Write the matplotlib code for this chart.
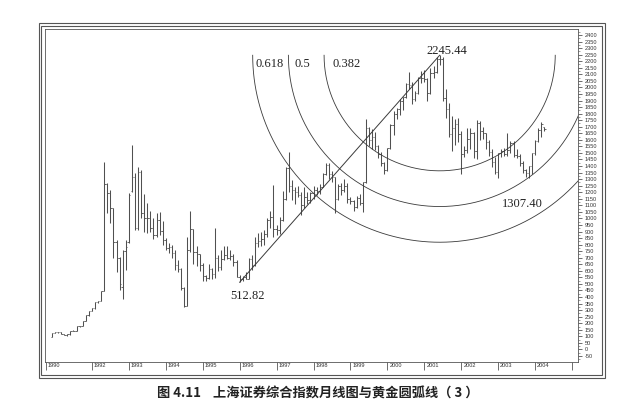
import numpy as np
import pandas as pd
import matplotlib
matplotlib.use("Agg")
import matplotlib.pyplot as plt
from matplotlib.patches import Rectangle
from matplotlib.transforms import ScaledTranslation

# ---------------- data (monthly OHLC, Shanghai Composite, 1990-12 .. 2004-04) ----------------
start_month = "1990-12"
opens = [96,
         128, 130, 134, 120, 114, 115, 138, 144, 179, 181, 219, 260,
         293, 313, 365, 371, 445, 1266, 1195, 1080, 820, 700, 480, 750,
         820, 1210, 1320, 925, 1358, 1040, 1007, 1000, 924, 871, 986, 906,
         834, 777, 780, 739, 648, 613, 467, 334, 758, 920, 746, 726,
         648, 564, 549, 612, 579, 700, 630, 692, 722, 701, 716, 666,
         555, 537, 552, 541, 693, 643, 812, 830, 840, 882, 986, 1014,
         917, 914, 990, 1150, 1385, 1250, 1218, 1200, 1180, 1100, 1160, 1137,
         1194, 1220, 1206, 1243, 1342, 1411, 1339, 1316, 1150, 1250, 1217, 1247,
         1147, 1134, 1090, 1158, 1120, 1279, 1689, 1601, 1622, 1550, 1490, 1421,
         1367, 1535, 1714, 1800, 1836, 1894, 1928, 2023, 2021, 1910, 1961, 2070,
         2073, 2065, 1958, 2112, 2119, 2214, 2218, 1920, 1834, 1642, 1689, 1720,
         1646, 1491, 1524, 1603, 1654, 1516, 1732, 1671, 1650, 1581, 1507, 1431,
         1358, 1499, 1511, 1490, 1521, 1577, 1487, 1477, 1421, 1367, 1348, 1397,
         1497, 1590, 1675, 1700]
highs = [128,
         135, 134, 135, 121, 116, 138, 145, 180, 181, 219, 260, 293,
         313, 365, 372, 446, 1429, 1267, 1220, 1080, 835, 708, 759, 835,
         1195, 1558, 1347, 1392, 1370, 1190, 1120, 1060, 1000, 1040, 1050, 980,
         850, 810, 800, 760, 680, 620, 480, 860, 1053, 920, 790, 730,
         660, 570, 650, 620, 926, 720, 760, 790, 790, 760, 730, 680,
         570, 560, 590, 700, 720, 860, 890, 900, 910, 1000, 1060, 1258,
         950, 1010, 1210, 1395, 1510, 1290, 1240, 1250, 1200, 1240, 1200, 1200,
         1250, 1240, 1260, 1350, 1420, 1423, 1360, 1320, 1260, 1270, 1300, 1270,
         1160, 1140, 1170, 1190, 1280, 1756, 1700, 1680, 1660, 1560, 1510, 1430,
         1540, 1720, 1820, 1840, 1910, 1930, 2030, 2114, 2040, 1970, 2080, 2125,
         2131, 2070, 2145, 2160, 2232, 2245.44, 2230, 1990, 1880, 1780, 1760, 1770,
         1670, 1550, 1690, 1690, 1660, 1749, 1740, 1700, 1655, 1600, 1530, 1470,
         1500, 1530, 1540, 1650, 1590, 1590, 1530, 1490, 1440, 1380, 1400, 1500,
         1600, 1690, 1738, 1700]
lows = [96,
        127, 129, 120, 113, 105, 114, 137, 143, 170, 180, 218, 259,
        292, 312, 355, 370, 445, 1040, 965, 700, 593, 453, 387, 606,
        815, 1204, 911, 915, 1000, 900, 890, 900, 840, 860, 870, 800,
        760, 735, 700, 610, 590, 455, 326, 334, 740, 650, 640, 600,
        524, 524, 540, 540, 545, 600, 610, 680, 690, 680, 640, 550,
        513, 520, 536, 540, 610, 640, 780, 790, 800, 860, 930, 855,
        870, 880, 980, 1140, 1200, 1140, 1110, 1160, 1025, 1080, 1110, 1120,
        1150, 1180, 1190, 1240, 1330, 1300, 1280, 1043, 1140, 1180, 1200, 1120,
        1110, 1060, 1080, 1100, 1047, 1270, 1550, 1530, 1520, 1460, 1400, 1341,
        1361, 1530, 1640, 1760, 1790, 1830, 1920, 1990, 1875, 1900, 1950, 2030,
        2040, 1893, 1950, 2070, 2110, 2170, 1900, 1770, 1620, 1515, 1560, 1580,
        1339, 1470, 1500, 1530, 1460, 1455, 1600, 1610, 1530, 1480, 1390, 1340,
        1312, 1470, 1480, 1480, 1500, 1470, 1460, 1400, 1350, 1320, 1307.40, 1340,
        1484, 1583, 1621, 1665]
closes = [128,
          130, 134, 120, 114, 115, 138, 144, 179, 181, 219, 260, 293,
          313, 365, 371, 445, 1266, 1195, 1080, 820, 700, 500, 750, 780,
          1180, 1320, 925, 1358, 1040, 1007, 1000, 924, 871, 986, 906, 834,
          777, 780, 739, 648, 613, 467, 334, 758, 920, 746, 726, 648,
          564, 549, 612, 579, 700, 630, 692, 722, 701, 716, 666, 555,
          537, 552, 541, 693, 643, 812, 830, 840, 882, 986, 1014, 917,
          914, 990, 1150, 1385, 1250, 1218, 1200, 1180, 1100, 1160, 1137, 1194,
          1220, 1206, 1243, 1342, 1411, 1339, 1316, 1150, 1250, 1217, 1247, 1147,
          1134, 1090, 1158, 1120, 1279, 1689, 1601, 1622, 1550, 1490, 1421, 1367,
          1535, 1714, 1800, 1836, 1894, 1928, 2023, 2021, 1910, 1961, 2070, 2073,
          2065, 1958, 2112, 2119, 2214, 2218, 1920, 1834, 1642, 1689, 1720, 1646,
          1491, 1524, 1603, 1654, 1516, 1732, 1671, 1650, 1581, 1507, 1431, 1358,
          1499, 1511, 1490, 1521, 1577, 1487, 1477, 1421, 1367, 1348, 1397, 1497,
          1590, 1675, 1720, 1680]

# swing points used for the golden arcs
swing_low_month, swing_low_value = "1996-01", 512.82
swing_high_month, swing_high_value = "2001-06", 2245.44
second_low_month, second_low_value = "2003-11", 1307.40
fib_ratios = [0.618, 0.5, 0.382]
fib_labels = ["0.618", "0.5", "0.382"]

# axis ticks
year_tick_months = ["1990-10", "1992-01", "1993-01", "1994-01", "1995-01", "1996-01",
                    "1997-01", "1998-01", "1999-01", "2000-01", "2001-01", "2002-01",
                    "2003-01", "2004-01", "2005-01"]
year_tick_labels = ["1990", "1992", "1993", "1994", "1995", "1996", "1997", "1998",
                    "1999", "2000", "2001", "2002", "2003", "2004", ""]
y_ticks = list(range(-50, 2401, 50))

caption = "图 4.11    上海证券综合指数月线图与黄金圆弧线（ 3 ）"

# ---------------- helpers ----------------
base = pd.Period(start_month, freq="M")
def mpos(m):
    return (pd.Period(m, freq="M") - base).n

n = len(closes)
x = np.arange(n)

W, H = 624, 415
fig = plt.figure(figsize=(W / 100, H / 100), dpi=100)
fig.patch.set_facecolor("white")

def fx(px):
    return px / W
def fy(py):
    return 1 - py / H

left_px, right_px, top_px, bottom_px = 45, 578, 29, 362
ax = fig.add_axes([fx(left_px), fy(bottom_px), (right_px - left_px) / W, (bottom_px - top_px) / H])
ax.set_xlim(-2.26, 170.96)
ax.set_ylim(-95.8, 2445.8)

bar_col = "#505050"
# OHLC bars
ax.vlines(x, lows, highs, color=bar_col, linewidth=0.75)
ax.hlines(opens, x - 0.45, x, color=bar_col, linewidth=0.6)
ax.hlines(closes, x, x + 0.45, color=bar_col, linewidth=0.6)

line_col = "#3a3a3a"
# trend line from swing low to swing high
xl, xh = mpos(swing_low_month), mpos(swing_high_month)
ax.plot([xl, xh], [swing_low_value, swing_high_value], color=line_col, linewidth=0.7)

# golden arcs (circles in screen space centred on the swing high)
p0 = ax.transData.transform((xl, swing_low_value))
p1 = ax.transData.transform((xh, swing_high_value))
L = np.hypot(*(p1 - p0))
theta = np.linspace(np.pi, 2 * np.pi, 400)
inv = ax.transData.inverted()
for r in fib_ratios:
    pts = np.column_stack([p1[0] + r * L * np.cos(theta), p1[1] + r * L * np.sin(theta)])
    d = inv.transform(pts)
    ax.plot(d[:, 0], d[:, 1], color=line_col, linewidth=0.6)

serif = ["Liberation Serif", "DejaVu Serif"]
# arc labels: just to the right of each arc's upper-left end
label_dx = {0.618: 3, 0.5: 6, 0.382: 8}
for r, lab in zip(fib_ratios, fib_labels):
    end = inv.transform((p1[0] - r * L, p1[1]))
    ax.annotate(lab, xy=end, xytext=(label_dx[r] * 0.72, -8.3 * 0.72), textcoords="offset points",
                ha="left", va="center", fontsize=9, family=serif, color="#222")

ax.annotate(f"{swing_high_value:.2f}", xy=(xh, swing_high_value), xytext=(5.5, 3.4),
            textcoords="offset points", ha="center", va="center", fontsize=9, family=serif, color="#222")
ax.annotate(f"{swing_low_value:.2f}", xy=(xl, swing_low_value), xytext=(5.5, -10),
            textcoords="offset points", ha="center", va="center", fontsize=9, family=serif, color="#222")
ax.annotate(f"{second_low_value:.2f}", xy=(mpos(second_low_month), second_low_value), xytext=(-4.5, -18.3),
            textcoords="offset points", ha="center", va="center", fontsize=9, family=serif, color="#222")

# axes styling
for s in ax.spines.values():
    s.set_linewidth(0.6)
    s.set_color("#555")
ax.yaxis.tick_right()
ax.set_yticks(y_ticks)
ax.set_yticklabels([str(v) for v in y_ticks])
ax.set_yticks(list(range(-75, 2426, 25)), minor=True)
ax.tick_params(axis="y", which="major", direction="out", length=2.8, width=0.5, pad=2,
               labelsize=4.1, colors="#333")
ax.tick_params(axis="y", which="minor", direction="out", length=1.5, width=0.4, color="#555")
for t in ax.get_yticklabels():
    t.set_family(["Liberation Sans", "DejaVu Sans"])

ax.set_xticks([mpos(m) for m in year_tick_months])
ax.set_xticklabels(year_tick_labels)
ax.tick_params(axis="x", direction="out", length=6, width=0.5, pad=-5.2, labelsize=4.1, colors="#333")
off = ScaledTranslation(1.5 / 72, 0, fig.dpi_scale_trans)
for t in ax.get_xticklabels():
    t.set_ha("left")
    t.set_family(["Liberation Sans", "DejaVu Sans"])
    t.set_transform(t.get_transform() + off)

# outer double frame
for (x0, y0, x1, y1) in [(38.5, 23.5, 604.5, 377.5), (41.0, 26.0, 602.0, 375.0)]:
    fig.add_artist(Rectangle((fx(x0), fy(y1)), fx(x1) - fx(x0), fy(y0) - fy(y1),
                             transform=fig.transFigure, fill=False, edgecolor="#555", linewidth=0.8))

fig.text(fx(318), fy(394), caption, ha="center", va="center", fontsize=9.5, fontweight="bold",
         family=["Noto Sans CJK SC", "DejaVu Sans"], color="#222")

fig.savefig("out.png", dpi=100, facecolor="white")
